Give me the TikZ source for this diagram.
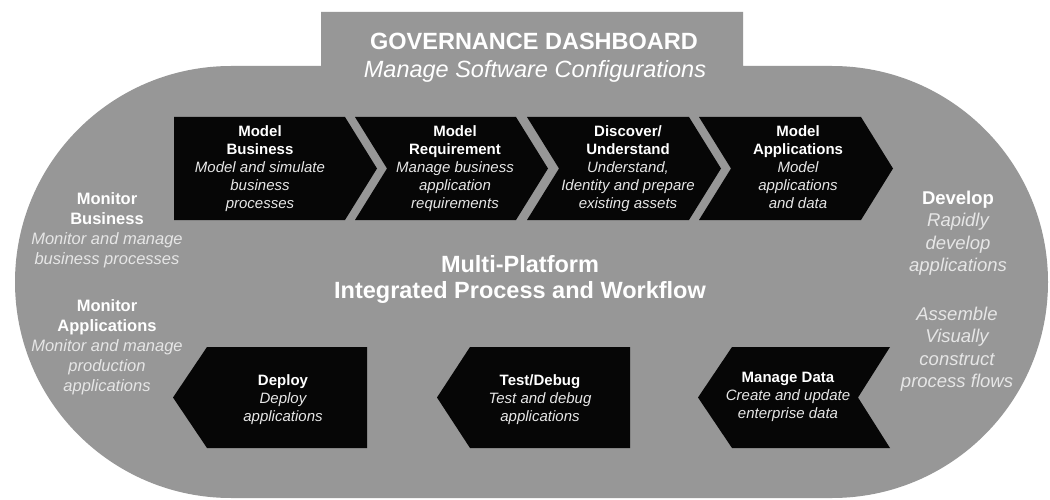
\documentclass[tikz,border=0pt]{standalone}
\usepackage{fontspec}
\setmainfont{Liberation Sans}
\definecolor{panelgray}{RGB}{151,151,151}
\definecolor{chevblack}{RGB}{6,6,6}
\definecolor{softwhite}{RGB}{230,230,230}
\newcommand\descline[1]{\textcolor{softwhite}{\itshape #1}}
\begin{document}
\begin{tikzpicture}[x=1pt,y=-1pt,
  panel/.style={fill=panelgray},
  chevron/.style={fill=chevblack},
  steptext/.style={text=white,align=center,inner sep=0pt,font=\fontsize{15}{18}\selectfont},
  lefttext/.style={text=white,align=center,inner sep=0pt,font=\fontsize{16.5}{20}\selectfont},
  righttext/.style={text=white,align=center,inner sep=0pt,font=\fontsize{18.5}{22.5}\selectfont},
  headtext/.style={text=white,inner sep=0pt,anchor=base,font=\fontsize{23.5}{27}\selectfont},
  hubtext/.style={text=white,align=center,inner sep=0pt,font=\bfseries\fontsize{23.5}{26}\selectfont}]

% canvas
\fill[white] (0,0) rectangle (1050,500);
\useasboundingbox (0,0) rectangle (1050,500);

% grey stadium with the dashboard tab on top
\fill[panel] (231,66) -- (321,66) -- (321,12) -- (743,12) -- (743,66) -- (832,66)
  arc[start angle=-90,end angle=90,radius=216]
  -- (231,498)
  arc[start angle=90,end angle=270,radius=216] -- cycle;

% dashboard heading
\node[headtext,font=\bfseries\fontsize{23.5}{27}\selectfont] (dash) at (534,50) {GOVERNANCE DASHBOARD};
\node[headtext,font=\itshape\fontsize{23.5}{27}\selectfont] (dashsub) at (535,78) {Manage Software Configurations};

% upper row of chevrons (pointing right)
\fill[chevron] (174,117) -- (345,117) -- (377,168.5) -- (345,220) -- (174,220) -- cycle;
\fill[chevron] (355,117) -- (516,117) -- (548,168.5) -- (516,220) -- (355,220) -- (387,168.5) -- cycle;
\fill[chevron] (527,117) -- (689,117) -- (721,168.5) -- (689,220) -- (527,220) -- (559,168.5) -- cycle;
\fill[chevron] (699,117) -- (861,117) -- (893,168.5) -- (861,220) -- (699,220) -- (731,168.5) -- cycle;

\node[steptext] (mbus) at (260,169) {\textbf{Model}\\\textbf{Business}\\\descline{Model and simulate}\\\descline{business}\\\descline{processes}};
\node[steptext] (mreq) at (455,169) {\textbf{Model}\\\textbf{Requirement}\\\descline{Manage business}\\\descline{application}\\\descline{requirements}};
\node[steptext] (disc) at (628,169) {\textbf{Discover/}\\\textbf{Understand}\\\descline{Understand,}\\\descline{Identity and prepare}\\\descline{existing assets}};
\node[steptext] (mapp) at (798,167.5) {\textbf{Model}\\\textbf{Applications}\\\descline{Model}\\\descline{applications}\\\descline{and data}};

% lower row of chevrons (pointing left)
\fill[chevron] (173,397.5) -- (207,347) -- (367,347) -- (367,448) -- (207,448) -- cycle;
\fill[chevron] (437,397.5) -- (470,347) -- (630,347) -- (630,448) -- (470,448) -- cycle;
\fill[chevron] (698,397.5) -- (732,347) -- (890,347) -- (858,397.5) -- (890,448) -- (732,448) -- cycle;

\node[steptext] (deploy) at (283,399.5) {\textbf{Deploy}\\\descline{Deploy}\\\descline{applications}};
\node[steptext] (test) at (540,400) {\textbf{Test/Debug}\\\descline{Test and debug}\\\descline{applications}};
\node[steptext] (mdata) at (788,397) {\textbf{Manage Data}\\\descline{Create and update}\\\descline{enterprise data}};

% centre caption
\node[hubtext] (hub) at (520,279) {Multi-Platform\\Integrated Process and Workflow};

% left side labels
\node[lefttext] (monbus) at (107,230) {\textbf{Monitor}\\\textbf{Business}\\\descline{Monitor and manage}\\\descline{business processes}};
\node[lefttext] (monapp) at (107,347) {\textbf{Monitor}\\\textbf{Applications}\\\descline{Monitor and manage}\\\descline{production}\\\descline{applications}};

% right side labels
\node[righttext] (develop) at (958,233) {\textbf{Develop}\\\descline{Rapidly}\\\descline{develop}\\\descline{applications}};
\node[righttext] (assemble) at (957,349) {\descline{Assemble}\\\descline{Visually}\\\descline{construct}\\\descline{process flows}};
\end{tikzpicture}
\end{document}
